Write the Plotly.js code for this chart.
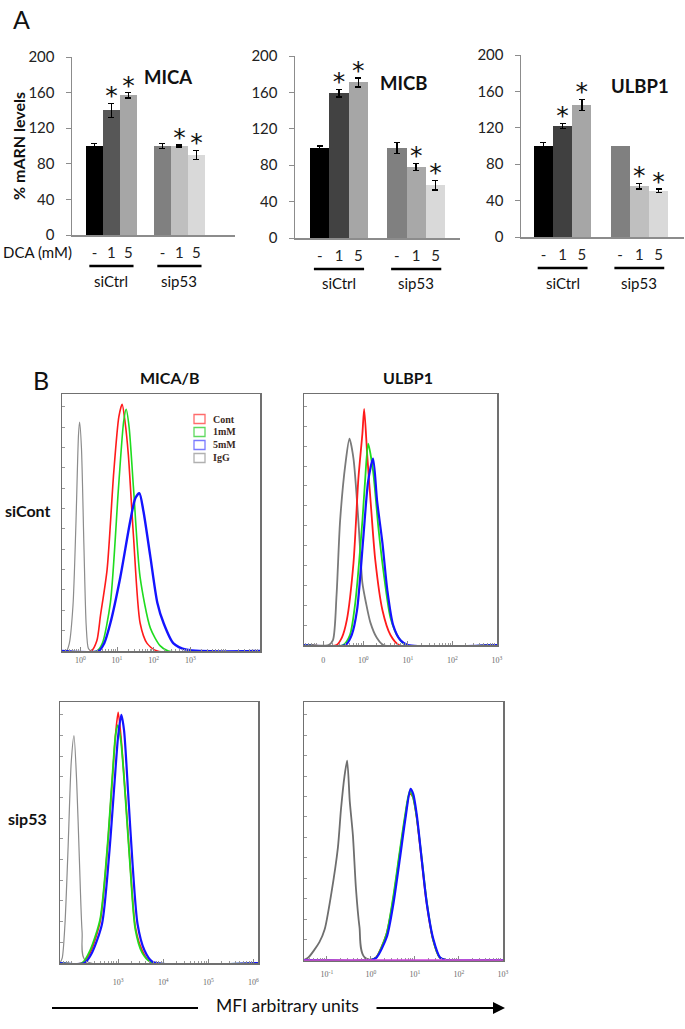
<!DOCTYPE html>
<html>
<head>
<meta charset="utf-8">
<script src="https://cdn.plot.ly/plotly-3.0.1.min.js"></script>
<style>
body { margin: 0; background: #fff; }
#fig { width: 685px; height: 1029px; }
</style>
</head>
<body>
<div id="fig"></div>
<script>
// panel A : mRNA levels
var doseCats = ['siCtrl -', 'siCtrl 1', 'siCtrl 5', 'gap', 'sip53 -', 'sip53 1', 'sip53 5'];
var doseLabels = ['-', '1', '5', '', '-', '1', '5'];
var barCats = ['siCtrl -', 'siCtrl 1', 'siCtrl 5', 'sip53 -', 'sip53 1', 'sip53 5'];
var groupNames = ['siCtrl', 'sip53'];

var micaVals = [100, 140, 157, 100, 100, 90];
var micaErr = [3, 8, 3, 3, 1, 5];
var micbVals = [99, 159, 171, 99, 78, 58];
var micbErr = [2, 4, 5, 6, 4, 5];
var ulbpVals = [100, 122, 145, 100, 56, 51];
var ulbpErr = [4, 3, 6, NaN, 3, 2]; // no error bar drawn on sip53 control
var starred = [false, true, true, false, true, true];

var micaColors = ['#000000', '#575757', '#a6a6a6', '#808080', '#bfbfbf', '#d9d9d9'];
var micbColors = ['#000000', '#424242', '#a6a6a6', '#808080', '#a8a8a8', '#d9d9d9'];
var ulbpColors = ['#000000', '#404040', '#a6a6a6', '#808080', '#bfbfbf', '#d9d9d9'];

// panel B : flow cytometry histograms (x = log10 MFI, y = % of max)
var tlIgG_x = [-0.5, -0.38, -0.3, -0.2, -0.12, -0.05, -0.02, 0.03, 0.1, 0.16, 0.22, 0.3, 4.9];
var tlIgG_y = [0, 0, 3, 18, 50, 85, 90, 80, 40, 10, 1, 0, 0];
var tlCont_x = [-0.5, 0.3, 0.45, 0.55, 0.73, 0.91, 1.05, 1.14, 1.22, 1.31, 1.45, 1.63, 1.82, 2.1, 4.9];
var tlCont_y = [0, 0, 4, 14, 32, 70, 92, 97, 90, 77, 45, 11, 3, 0, 0];
var tl1mM_x = [-0.5, 0.45, 0.6, 0.82, 1.04, 1.18, 1.25, 1.33, 1.45, 1.63, 1.91, 2.18, 2.4, 4.9];
var tl1mM_y = [0, 0, 3, 19, 64, 90, 95, 88, 64, 29, 9, 2, 0, 0];
var tl5mM_x = [-0.5, 0.5, 0.65, 0.82, 1.09, 1.36, 1.5, 1.61, 1.72, 1.91, 2.1, 2.27, 2.54, 2.9, 4.9];
var tl5mM_y = [0, 0, 3, 11, 29, 51, 60, 62, 55, 37, 19, 11, 3, 0.5, 0];

var trIgG_x = [-1.33, -0.78, -0.68, -0.6, -0.52, -0.4, -0.31, -0.22, -0.11, -0.02, 0.06, 0.16, 0.3, 0.45, 3.0];
var trIgG_y = [0, 0, 2, 20, 50, 73, 83, 75, 50, 25, 17, 9, 3, 0, 0];
var trCont_x = [-1.33, -0.6, -0.48, -0.37, -0.22, -0.11, -0.02, 0.02, 0.09, 0.18, 0.27, 0.43, 0.61, 0.8, 3.0];
var trCont_y = [0, 0, 3, 10, 33, 67, 85, 95, 76, 54, 34, 14, 4, 0, 0];
var tr1mM_x = [-1.33, -0.45, -0.3, -0.18, -0.02, 0.04, 0.11, 0.22, 0.34, 0.45, 0.61, 0.79, 0.95, 3.0];
var tr1mM_y = [0, 0, 4, 17, 50, 66, 81, 70, 47, 30, 11, 3, 0, 0];
var tr5mM_x = [-1.33, -0.4, -0.26, -0.14, 0, 0.11, 0.22, 0.31, 0.43, 0.54, 0.67, 0.83, 1.0, 3.0];
var tr5mM_y = [0, 0, 4, 14, 43, 66, 75, 58, 41, 22, 8, 2, 0, 0];

var blIgG_x = [1.71, 1.76, 1.82, 1.89, 1.96, 2.02, 2.08, 2.14, 2.2, 2.27, 6.1];
var blIgG_y = [0, 2, 15, 45, 78, 88, 70, 40, 12, 1, 0];
var blCont_x = [1.71, 2.2, 2.38, 2.6, 2.76, 2.87, 2.95, 3.0, 3.06, 3.16, 3.27, 3.38, 3.53, 3.71, 6.1];
var blCont_y = [0, 0, 4, 16, 44, 71, 90, 97, 88, 65, 37, 14, 5, 0.5, 0];
var bl1mM_x = [1.71, 2.2, 2.38, 2.6, 2.76, 2.87, 2.94, 2.99, 3.06, 3.16, 3.27, 3.38, 3.53, 3.71, 6.1];
var bl1mM_y = [0, 0, 5, 17, 45, 72, 88, 92, 86, 64, 36, 13, 4, 0.5, 0];
var bl5mM_x = [1.71, 2.25, 2.42, 2.64, 2.8, 2.92, 3.0, 3.07, 3.13, 3.22, 3.32, 3.43, 3.58, 3.76, 6.1];
var bl5mM_y = [0, 0, 4, 15, 42, 70, 88, 96, 90, 66, 38, 15, 5, 0.5, 0];

var brIgG_x = [-1.52, -1.42, -1.17, -1.05, -0.9, -0.75, -0.68, -0.6, -0.54, -0.48, -0.41, -0.34, -0.26, -0.14, 3.0];
var brIgG_y = [0, 1, 7, 12, 26, 44, 59, 72, 78, 62, 49, 28, 13, 1, 0];
var brCont_x = [-1.52, 0.0, 0.12, 0.35, 0.5, 0.65, 0.77, 0.88, 0.95, 1.03, 1.14, 1.26, 1.41, 1.56, 1.7, 3.0];
var brCont_y = [0, 0, 1, 10, 23, 41, 55, 65, 64, 57, 41, 23, 8, 1, 0, 0];
var br1mM_x = [-1.52, 0.0, 0.12, 0.35, 0.5, 0.65, 0.77, 0.88, 0.95, 1.03, 1.14, 1.26, 1.41, 1.56, 1.7, 3.0];
var br1mM_y = [0, 0, 1, 10, 24, 42, 56, 66, 64, 57, 42, 24, 8, 1, 0, 0];
var br5mM_x = [-1.52, 0.0, 0.13, 0.36, 0.51, 0.66, 0.78, 0.9, 0.96, 1.04, 1.15, 1.27, 1.42, 1.57, 1.7, 3.0];
var br5mM_y = [0, 0, 1, 9, 22, 40, 55, 67, 65, 57, 40, 22, 8, 1, 0, 0];

var legendNames = ['Cont', '1mM', '5mM', 'IgG'];
var legendColors = ['#ff6b6b', '#5fd95f', '#7b7bff', '#b0b0b0'];

var FONT = 'Lato, "Open Sans", sans-serif';
var SERIF = '"Liberation Serif", "DejaVu Serif", serif';
var W = 685, H = 1029;
function px(x) { return x / W; }
function py(y) { return 1 - y / H; }
function sfx(n) { return n === 1 ? '' : String(n); }

var traces = [];

function addBars(vals, errs, colors, ax) {
    var xa = 'x' + sfx(ax), ya = 'y' + sfx(ax);
    // empty slot between the two groups
    traces.push({x: ['gap'], y: [0], type: 'scatter', mode: 'none', xaxis: xa, yaxis: ya, hoverinfo: 'skip'});
    traces.push({
        x: barCats, y: vals, type: 'bar', xaxis: xa, yaxis: ya,
        marker: {color: colors, line: {width: 0}},
        error_y: {type: 'data', array: errs, visible: true, color: '#000', thickness: 1.5, width: 3}
    });
    var sx = [], sy = [];
    for (var i = 0; i < vals.length; i++) {
        if (starred[i]) { sx.push(barCats[i]); sy.push(vals[i] + (errs[i] || 0) + 6); }
    }
    traces.push({
        x: sx, y: sy, type: 'scatter', mode: 'text', text: sx.map(function() { return '*'; }),
        textposition: 'middle center', textfont: {size: 25, color: '#111', family: '"DejaVu Sans", sans-serif'},
        xaxis: xa, yaxis: ya
    });
}
addBars(micaVals, micaErr, micaColors, 1);
addBars(micbVals, micbErr, micbColors, 2);
addBars(ulbpVals, ulbpErr, ulbpColors, 3);

function addCurve(xs, ys, color, w, ax) {
    traces.push({
        x: xs, y: ys, type: 'scatter', mode: 'lines',
        line: {color: color, width: w, shape: 'spline', smoothing: 0.7},
        xaxis: 'x' + ax, yaxis: 'y' + ax
    });
}
addCurve(tlIgG_x, tlIgG_y, '#8c8c8c', 1.2, 4);
addCurve(tlCont_x, tlCont_y, '#ff1a1a', 1.6, 4);
addCurve(tl1mM_x, tl1mM_y, '#1fdc1f', 1.6, 4);
addCurve(tl5mM_x, tl5mM_y, '#1414ff', 2.4, 4);
addCurve(trIgG_x, trIgG_y, '#7a7a7a', 1.8, 5);
addCurve(trCont_x, trCont_y, '#ff1a1a', 1.8, 5);
addCurve(tr1mM_x, tr1mM_y, '#1fdc1f', 1.8, 5);
addCurve(tr5mM_x, tr5mM_y, '#1414ff', 2.2, 5);
addCurve(blIgG_x, blIgG_y, '#8c8c8c', 1.2, 6);
addCurve(blCont_x, blCont_y, '#ff1a1a', 1.6, 6);
addCurve(bl1mM_x, bl1mM_y, '#1fdc1f', 1.8, 6);
addCurve(bl5mM_x, bl5mM_y, '#1414ff', 2.2, 6);
addCurve(brIgG_x, brIgG_y, '#6e6e6e', 1.8, 7);
addCurve(brCont_x, brCont_y, '#ff1a1a', 1.8, 7);
addCurve(br1mM_x, br1mM_y, '#1fdc1f', 1.8, 7);
addCurve(br5mM_x, br5mM_y, '#1414ff', 2.2, 7);

function barX(n, dom, range) {
    return {
        anchor: 'y' + sfx(n), domain: dom, type: 'category', categoryorder: 'array', categoryarray: doseCats,
        tickmode: 'array', tickvals: doseCats, ticktext: doseLabels, range: range,
        showline: true, linecolor: '#8c8c8c', linewidth: 1.5, ticks: '',
        ticklabelstandoff: 3, tickfont: {size: 15, color: '#222', family: FONT},
        showgrid: false, zeroline: false, fixedrange: true
    };
}
function barY(n, dom) {
    return {
        anchor: 'x' + sfx(n), domain: dom, range: [0, 200], tick0: 0, dtick: 40,
        showline: true, linecolor: '#8c8c8c', linewidth: 1.5,
        ticks: 'outside', ticklen: 5, tickcolor: '#8c8c8c', ticklabelstandoff: 8,
        tickfont: {size: 15, color: '#222', family: FONT},
        showgrid: false, zeroline: false, fixedrange: true
    };
}

function decadeMinors(lo, hi) {
    var out = [];
    for (var d = Math.floor(lo); d < hi; d++) {
        for (var k = 2; k < 10; k++) {
            var v = d + Math.log10(k);
            if (v > lo && v < hi) out.push(v);
        }
    }
    return out;
}
function flowX(n, dom, range, tv, tt, standoff) {
    return {
        anchor: 'y' + n, domain: dom, range: range, tickmode: 'array', tickvals: tv, ticktext: tt,
        showline: true, mirror: true, linecolor: '#707070', linewidth: 1.5,
        ticks: 'inside', ticklen: 4, tickcolor: '#888',
        minor: {tickmode: 'array', tickvals: decadeMinors(range[0], range[1]), ticks: 'inside', ticklen: 2, tickcolor: '#999'},
        ticklabelstandoff: standoff, tickfont: {size: 8, color: '#6a6a6a', family: SERIF},
        showgrid: false, zeroline: false, fixedrange: true
    };
}
function flowY(n, dom) {
    return {
        anchor: 'x' + n, domain: dom, range: [0, 101], tick0: 0, dtick: 8,
        showline: true, mirror: true, linecolor: '#707070', linewidth: 1.5,
        ticks: 'inside', ticklen: 3, tickcolor: '#999', showticklabels: false,
        showgrid: false, zeroline: false, fixedrange: true
    };
}
function pow10(v) { return '10<sup>' + v + '</sup>'; }

var layout = {
    width: W, height: H,
    margin: {l: 0, r: 0, t: 0, b: 0},
    paper_bgcolor: '#fff', plot_bgcolor: 'rgba(0,0,0,0)',
    showlegend: false, bargap: 0,
    font: {family: FONT, color: '#111'},
    xaxis: barX(1, [px(72), px(235)], [-1.32, 8.27]),
    yaxis: barY(1, [py(235), py(57)]),
    xaxis2: barX(2, [px(295), px(460)], [-1.28, 7.27]),
    yaxis2: barY(2, [py(238), py(56)]),
    xaxis3: barX(3, [px(521), px(684)], [-1.17, 7.33]),
    yaxis3: barY(3, [py(237), py(55)]),
    xaxis4: flowX(4, [px(62), px(260)], [-0.5, 4.9], [0, 1, 2, 3], [pow10(0), pow10(1), pow10(2), pow10(3)], 1),
    yaxis4: flowY(4, [py(651), py(394)]),
    xaxis5: flowX(5, [px(304), px(497)], [-1.33, 3.0], [-0.9, 0, 1, 2, 3], ['0', pow10(0), pow10(1), pow10(2), pow10(3)], 7),
    yaxis5: flowY(5, [py(645), py(394)]),
    xaxis6: flowX(6, [px(60), px(258)], [1.71, 6.1], [3, 4, 5, 6], [pow10(3), pow10(4), pow10(5), pow10(6)], 11),
    yaxis6: flowY(6, [py(963), py(702)]),
    xaxis7: flowX(7, [px(304), px(503)], [-1.52, 3.0], [-1, 0, 1, 2, 3], [pow10(-1), pow10(0), pow10(1), pow10(2), pow10(3)], 6),
    yaxis7: flowY(7, [py(960), py(702)]),
    shapes: [],
    annotations: []
};

var ann = layout.annotations, shp = layout.shapes;
function label(text, x, y, size, extra) {
    var a = {text: text, x: px(x), y: py(y), xref: 'paper', yref: 'paper', showarrow: false,
        font: {size: size, color: '#111', family: FONT}, xanchor: 'center', yanchor: 'middle'};
    for (var k in extra) a[k] = extra[k];
    ann.push(a);
}

label('A', 21, 19, 25);
label('B', 41, 380, 25);
label('<b>MICA</b>', 168, 77, 18.5);
label('<b>MICB</b>', 403, 83, 18.5);
label('<b>ULBP1</b>', 640, 86, 18.5);
label('<b>% mARN levels</b>', 18, 146, 16, {textangle: -90});
label('DCA (mM)', 37, 252, 15);
label('<b>MICA/B</b>', 170, 378, 16);
label('<b>ULBP1</b>', 408, 378, 16);
label('<b>siCont</b>', 27, 510, 16);
label('<b>sip53</b>', 27, 818, 16);
label('MFI arbitrary units', 287, 1005, 17.5);

// group underlines and names under each bar chart
['', '2', '3'].forEach(function(s, i) {
    var lineY = [266, 269, 268][i], textY = [281, 283, 283][i];
    shp.push({type: 'line', xref: 'x' + s, yref: 'paper', x0: -0.3, x1: 2.3, y0: py(lineY), y1: py(lineY), line: {color: '#000', width: 2.5}});
    shp.push({type: 'line', xref: 'x' + s, yref: 'paper', x0: 3.7, x1: 6.3, y0: py(lineY), y1: py(lineY), line: {color: '#000', width: 2.5}});
    ann.push({text: groupNames[0], xref: 'x' + s, yref: 'paper', x: 1, y: py(textY), showarrow: false,
        font: {size: 15, color: '#111', family: FONT}, yanchor: 'middle'});
    ann.push({text: groupNames[1], xref: 'x' + s, yref: 'paper', x: 5, y: py(textY), showarrow: false,
        font: {size: 15, color: '#111', family: FONT}, yanchor: 'middle'});
});

// legend of the top-left histogram
legendNames.forEach(function(name, i) {
    var yc = 419 + i * 13;
    shp.push({type: 'rect', xref: 'paper', yref: 'paper', x0: px(194), x1: px(205), y0: py(yc + 4.5), y1: py(yc - 4.5),
        line: {color: legendColors[i], width: 1.3}, fillcolor: 'rgba(0,0,0,0)'});
    ann.push({text: '<b>' + name + '</b>', xref: 'paper', yref: 'paper', x: px(211), y: py(yc), showarrow: false,
        xanchor: 'left', yanchor: 'middle', font: {size: 10, color: '#3b2a1e', family: SERIF}});
});

// magenta baseline on the bottom-right histogram
shp.push({type: 'line', xref: 'paper', yref: 'paper', x0: px(304), x1: px(503), y0: py(960), y1: py(960), line: {color: '#cc44dd', width: 1.5}});

// MFI axis arrow
shp.push({type: 'line', xref: 'paper', yref: 'paper', x0: px(52), x1: px(198), y0: py(1008), y1: py(1008), line: {color: '#000', width: 2}});
ann.push({text: '', xref: 'paper', yref: 'paper', x: px(505), y: py(1008), ax: -130, ay: 0,
    showarrow: true, arrowhead: 2, arrowsize: 1.2, arrowwidth: 2, arrowcolor: '#000'});

Plotly.newPlot('fig', traces, layout, {staticPlot: true});
</script>
</body>
</html>
